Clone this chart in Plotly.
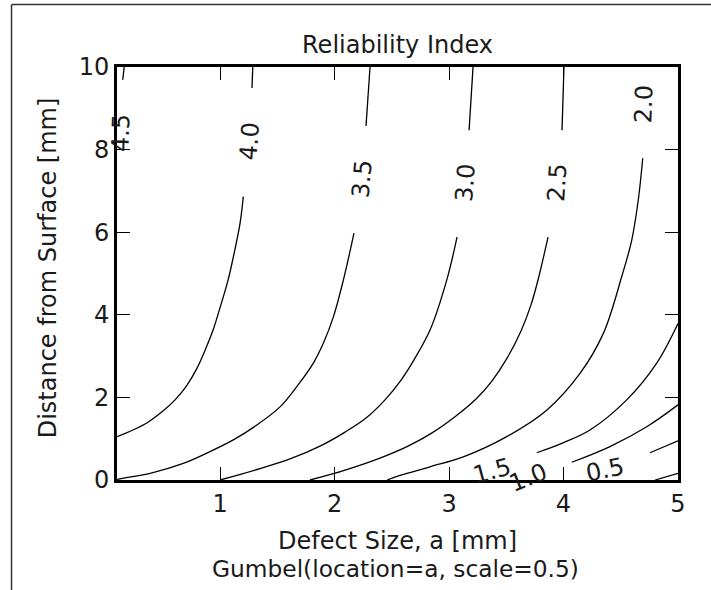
import plotly.graph_objects as go

# Contour levels of the reliability index (0.0 level carries no label)
levels = [4.5, 4.0, 3.5, 3.0, 2.5, 2.0, 1.5, 1.0, 0.5, 0.0]

# Contour paths: defect size a [mm] vs distance from surface d [mm]
# (None marks the break left for an inline label)
a_45 = [0.163, 0.150]
d_45 = [10.0, 9.69]

a_40 = [1.286, 1.279, None, 1.203, 1.175, 1.116, 1.070, 0.991, 0.939, 0.878, 0.799, 0.712, 0.607, 0.493, 0.371, 0.240, 0.100]
d_40 = [10.0, 9.49, None, 6.86, 6.22, 5.40, 4.84, 4.09, 3.63, 3.20, 2.71, 2.30, 1.94, 1.65, 1.40, 1.21, 1.05]

a_35 = [2.310, 2.275, None, 2.170, 2.077, 1.990, 1.902, 1.815, 1.670, 1.524, 1.321, 1.116, 0.884, 0.679, 0.389, 0.112, 0.100]
d_35 = [10.0, 8.57, None, 5.98, 4.84, 3.95, 3.31, 2.83, 2.26, 1.77, 1.33, 0.97, 0.65, 0.40, 0.16, 0.02, 0.0]

a_30 = [3.210, 3.175, None, 3.070, 2.980, 2.834, 2.694, 2.581, 2.441, 2.275, 2.092, 1.873, 1.611, 1.306, 1.000]
d_30 = [10.0, 8.47, None, 5.88, 4.84, 3.63, 2.91, 2.42, 1.94, 1.50, 1.16, 0.82, 0.51, 0.24, 0.0]

a_25 = [4.004, 3.987, None, 3.865, 3.777, 3.716, 3.629, 3.507, 3.376, 3.236, 3.052, 2.852, 2.642, 2.397, 2.092, 1.786]
d_25 = [10.0, 8.47, None, 5.88, 4.84, 4.24, 3.61, 2.95, 2.40, 1.96, 1.53, 1.14, 0.82, 0.53, 0.24, 0.0]

a_20 = [4.692, 4.653, 4.596, 4.508, 4.348, 4.144, 3.853, 3.504, 3.125, 2.834, 2.572, 2.459]
d_20 = [7.79, 6.78, 5.81, 4.92, 3.55, 2.58, 1.69, 1.05, 0.56, 0.32, 0.11, 0.0]

a_15 = [5.0, 4.814, 4.552, 4.231, 3.996, 3.766]
d_15 = [3.79, 2.83, 1.94, 1.21, 0.90, 0.66]

a_10 = [5.0, 4.727, 4.406, 4.072]
d_10 = [1.82, 1.29, 0.81, 0.43]

a_05 = [5.0, 4.755]
d_05 = [0.95, 0.66]

a_00 = [5.0, 4.80]
d_00 = [0.16, 0.0]

# Inline label anchors (a, d) and text angles, one per labelled level
label_a = [0.135, 1.262, 2.240, 3.140, 3.943, 4.699, 3.376, 3.686, 4.362]
label_d = [8.40, 8.20, 7.29, 7.20, 7.20, 9.09, 0.22, 0.06, 0.24]
label_angle = [-88, -86, -85, -86, -86, -88, -15, -22, -12]

x_ticks = [1, 2, 3, 4, 5]
x_ticktext = ["1", "2", "3", "4", "5"]
y_ticks = [0, 2, 4, 6, 8, 10]
y_ticktext = ["0", "2", "4", "6", "8", "10"]

paths = [(a_45, d_45), (a_40, d_40), (a_35, d_35), (a_30, d_30), (a_25, d_25),
         (a_20, d_20), (a_15, d_15), (a_10, d_10), (a_05, d_05), (a_00, d_00)]

FONT = "DejaVu Sans"
FS = 24
INK = "#1a1a1a"

fig = go.Figure()
for lev, (xs, ys) in zip(levels, paths):
    fig.add_trace(go.Scatter(
        x=xs, y=ys, mode="lines", name=f"{lev:.1f}",
        line=dict(color="black", width=1.3, shape="spline", smoothing=1.0),
        connectgaps=False, showlegend=False, hoverinfo="skip",
    ))

annotations = []
for lev, ax_, dy_, ang in zip(levels, label_a, label_d, label_angle):
    annotations.append(dict(
        x=ax_, y=dy_, xref="x", yref="y", text=f"{lev:.1f}", showarrow=False,
        textangle=ang, xanchor="center", yanchor="middle",
        font=dict(family=FONT, size=FS, color=INK),
    ))

# Axis titles
annotations.append(dict(
    x=0.5, y=-0.1477, xref="paper", yref="paper", text="Defect Size, a [mm]",
    showarrow=False, xanchor="center", yanchor="middle",
    font=dict(family=FONT, size=FS, color=INK)))
annotations.append(dict(
    x=0.496, y=-0.2131, xref="paper", yref="paper", text="Gumbel(location=a, scale=0.5)",
    showarrow=False, xanchor="center", yanchor="middle",
    font=dict(family=FONT, size=23.3, color=INK)))
annotations.append(dict(
    x=-0.123, y=0.515, xref="paper", yref="paper", text="Distance from Surface [mm]",
    showarrow=False, textangle=-90, xanchor="center", yanchor="middle",
    font=dict(family=FONT, size=FS, color=INK)))

# Thin outer frame along the top and left of the figure
shapes = [
    dict(type="line", xref="paper", yref="paper", x0=-0.188, y0=1.1513, x1=1.06, y1=1.1513,
         line=dict(color="#333333", width=1.5)),
    dict(type="line", xref="paper", yref="paper", x0=-0.188, y0=1.1513, x1=-0.188, y1=-0.27,
         line=dict(color="#333333", width=1.5)),
]

axis_common = dict(
    showgrid=False, zeroline=False, showline=True, linecolor="black", linewidth=2.6,
    mirror="allticks", ticks="inside", ticklen=13, tickwidth=1.3, tickcolor="black",
    tickfont=dict(family=FONT, size=FS, color=INK),
)

fig.update_layout(
    width=711, height=590,
    margin=dict(l=117, r=33, t=67, b=110),
    paper_bgcolor="white", plot_bgcolor="white",
    title=dict(text="Reliability Index", x=0.5, xref="paper", xanchor="center",
               y=1 - 45 / 590, yanchor="middle",
               font=dict(family=FONT, size=FS, color=INK)),
    xaxis=dict(range=[0.1, 5.0], tickvals=x_ticks, ticktext=x_ticktext, **axis_common),
    yaxis=dict(range=[0, 10], tickvals=y_ticks, ticktext=y_ticktext, **axis_common),
    annotations=annotations,
    shapes=shapes,
)

fig.write_html("out.html")
